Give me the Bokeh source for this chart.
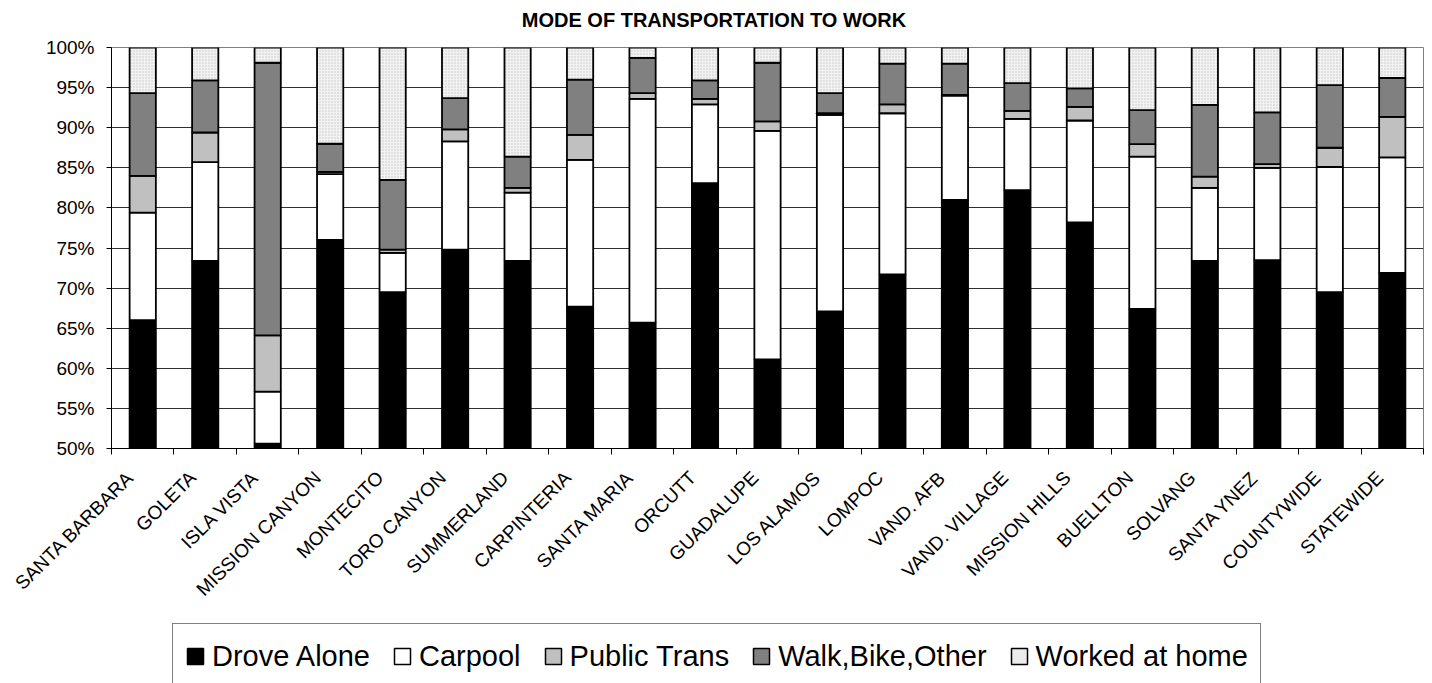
from math import pi
from bokeh.plotting import figure
from bokeh.layouts import column
from bokeh.models import (ColumnDataSource, Range1d, FixedTicker, Legend, LegendItem,
                          Label, PrintfTickFormatter, Grid)
from bokeh.embed import file_html
from bokeh.resources import INLINE

FONT = "Liberation Sans"

categories = ["SANTA BARBARA", "GOLETA", "ISLA VISTA", "MISSION CANYON", "MONTECITO",
              "TORO CANYON", "SUMMERLAND", "CARPINTERIA", "SANTA MARIA", "ORCUTT",
              "GUADALUPE", "LOS ALAMOS", "LOMPOC", "VAND. AFB", "VAND. VILLAGE",
              "MISSION HILLS", "BUELLTON", "SOLVANG", "SANTA YNEZ", "COUNTYWIDE", "STATEWIDE"]

drove_alone = [66.0, 73.4, 50.6, 76.0, 69.5, 74.8, 73.4, 67.7, 65.7, 83.1, 61.1,
               67.1, 71.7, 81.0, 82.2, 78.2, 67.4, 73.4, 73.5, 69.5, 71.9]
carpool = [13.4, 12.3, 6.5, 8.2, 4.9, 13.5, 8.5, 18.3, 27.9, 9.8, 28.5,
           24.5, 20.1, 13.0, 8.9, 12.7, 19.0, 9.1, 11.5, 15.6, 14.4]
public_trans = [4.6, 3.7, 7.0, 0.3, 0.4, 1.5, 0.6, 3.1, 0.7, 0.7, 1.2,
                0.2, 1.1, 0.1, 1.0, 1.7, 1.55, 1.4, 0.45, 2.4, 5.05]
walk_bike_other = [10.3, 6.5, 34.0, 3.5, 8.7, 3.9, 3.9, 6.9, 4.4, 2.3, 7.3,
                   2.5, 5.1, 3.9, 3.45, 2.3, 4.25, 8.95, 6.45, 7.8, 4.85]
worked_at_home = [5.7, 4.1, 1.9, 12.0, 16.5, 6.3, 13.6, 4.0, 1.3, 4.1, 1.9,
                  5.7, 2.0, 2.0, 4.45, 5.1, 7.8, 7.15, 8.1, 4.7, 3.8]

series_names = ["Drove Alone", "Carpool", "Public Trans", "Walk,Bike,Other", "Worked at home"]
series_cols = ["drove", "carpool", "public", "walk", "home"]
series_colors = ["#000000", "#ffffff", "#c0c0c0", "#808080", "#f2f2f2"]
legend_colors = ["#000000", "#ffffff", "#c0c0c0", "#808080", "#ebebeb"]
y_ticks = [50, 55, 60, 65, 70, 75, 80, 85, 90, 95, 100]
title_text = "MODE OF TRANSPORTATION TO WORK"

n = len(categories)
xpos = [i + 0.5 for i in range(n)]
label_pos = [x - 0.2 for x in xpos]
source = ColumnDataSource(dict(x=xpos, drove=drove_alone, carpool=carpool,
                               public=public_trans, walk=walk_bike_other,
                               home=worked_at_home))

W = 1424
LEFT = 111
RIGHT = 1


def bare_figure(height, **kw):
    f = figure(width=W, height=height, output_backend="svg", toolbar_location=None,
               x_axis_location=None, y_axis_location=None,
               min_border_left=LEFT, min_border_right=RIGHT, min_border_top=0,
               min_border_bottom=0, outline_line_color=None, **kw)
    f.background_fill_color = "white"
    f.border_fill_color = "white"
    f.outline_line_color = None
    for g in f.select(type=Grid):
        g.visible = False
        g.grid_line_color = None
    return f


# ---- title strip ----
tp = bare_figure(34)
tp.add_layout(Label(x=(522 + 905) / 2 - LEFT, y=15, x_units="screen", y_units="screen",
                    text=title_text, text_align="center", text_baseline="alphabetic",
                    text_font=FONT, text_font_size="20px", text_font_style="bold",
                    text_color="black"))

# ---- main chart ----
p = figure(width=W, height=589, x_range=Range1d(0, n), y_range=Range1d(50, 100),
           output_backend="svg", toolbar_location=None,
           min_border_left=LEFT, min_border_right=RIGHT, min_border_top=13,
           min_border_bottom=175, outline_line_color="#808080")
p.background_fill_color = "white"
p.border_fill_color = "white"

renderers = p.vbar_stack(series_cols, x="x", width=0.42, source=source,
                         fill_color=series_colors, line_color="black", line_width=1.8)
home_r = renderers[-1]
home_r.glyph.hatch_pattern = "dot"
home_r.glyph.hatch_color = "#c4c4c4"
home_r.glyph.hatch_scale = 3
home_r.glyph.hatch_weight = 1

yt = FixedTicker(ticks=y_ticks)
p.yaxis.ticker = yt
p.ygrid.ticker = yt
p.yaxis.formatter = PrintfTickFormatter(format="%d%%")
p.yaxis.major_label_text_font = FONT
p.yaxis.major_label_text_font_size = "19px"
p.yaxis.major_label_text_color = "black"
p.yaxis.major_tick_out = 5
p.yaxis.major_tick_in = 0
p.yaxis.minor_tick_out = 0
p.yaxis.minor_tick_in = 0
p.yaxis.axis_line_color = "black"
p.yaxis.major_tick_line_color = "black"
p.yaxis.major_label_standoff = 12
p.ygrid.grid_line_color = "#303030"
p.ygrid.grid_line_width = 1
p.xgrid.visible = False

p.xaxis.ticker = FixedTicker(ticks=label_pos, minor_ticks=list(range(n + 1)))
p.xaxis.major_label_overrides = {x: c for x, c in zip(label_pos, categories)}
p.xaxis.major_label_orientation = pi / 4
p.xaxis.major_label_text_font = FONT
p.xaxis.major_label_text_font_size = "19px"
p.xaxis.major_label_text_color = "black"
p.xaxis.major_tick_out = 0
p.xaxis.major_tick_in = 0
p.xaxis.minor_tick_out = 6
p.xaxis.minor_tick_in = 0
p.xaxis.minor_tick_line_color = "black"
p.xaxis.axis_line_color = "black"
p.xaxis.major_label_standoff = 20

# ---- legend strip: proxy renderers from the same data, hidden in the strip itself ----
lp = bare_figure(60, x_range=Range1d(0, n), y_range=Range1d(50, 100))
lp_rs = lp.vbar_stack(series_cols, x="x", width=0.42, source=source,
                      fill_color=legend_colors, line_color="black", line_width=1.5)
for r in lp_rs:
    r.visible = False

legend = Legend(items=[LegendItem(label=nm, renderers=[r]) for nm, r in zip(series_names, lp_rs)],
                orientation="horizontal", location=(172 - LEFT, -6),
                glyph_width=20, glyph_height=20, label_height=40, label_standoff=7,
                spacing=22, padding=12, margin=0, label_text_font=FONT,
                label_text_font_size="29px", label_text_color="black",
                border_line_color="black", border_line_width=1,
                background_fill_color="white", background_fill_alpha=1,
                inactive_fill_alpha=0)
lp.add_layout(legend)

layout = column(tp, p, lp, spacing=0)
open("out.html", "w").write(file_html(layout, INLINE))
